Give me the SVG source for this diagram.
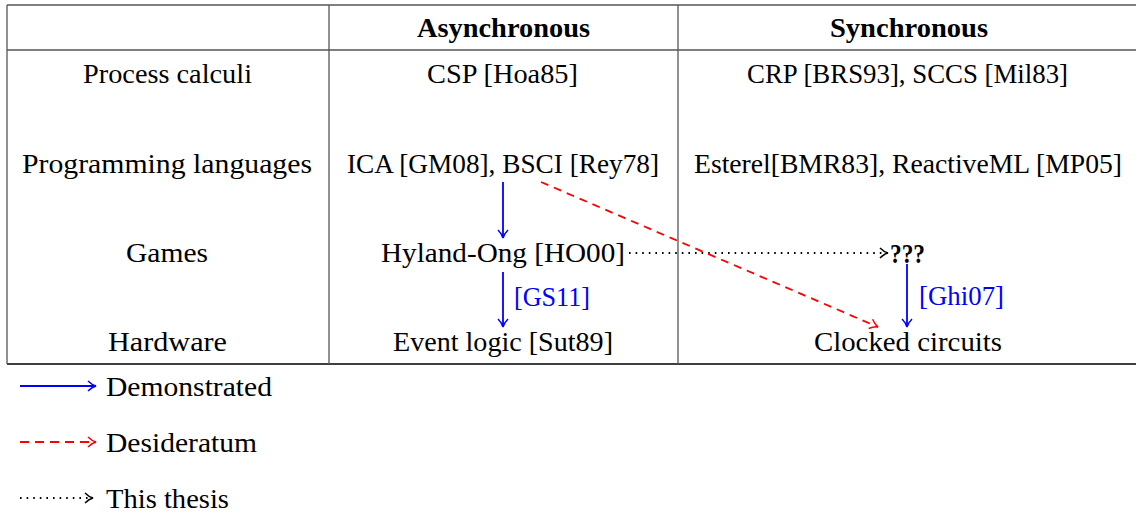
<svg xmlns="http://www.w3.org/2000/svg" width="1136" height="513" viewBox="0 0 1136 513">
<style>
text{font-family:"Liberation Serif","DejaVu Serif",serif;font-size:26.5px;fill:#000}
.c{text-anchor:middle}
.b{font-weight:bold}
.blue{fill:#0000ff}
.grid{stroke:#555;stroke-width:1.3;fill:none}
.dem{stroke:#0000ff;stroke-width:1.8;fill:none}
.des{stroke:#ff0000;stroke-width:1.8;fill:none;stroke-dasharray:8,6}
.th{stroke:#000;stroke-width:1.8;fill:none;stroke-dasharray:1.6,5}
</style>
<defs>
<marker id="ab" viewBox="0 0 10 12" refX="9" refY="6" markerWidth="10" markerHeight="12" markerUnits="userSpaceOnUse" orient="auto"><path d="M1,1 Q5,5 9,6 Q5,7 1,11" fill="none" stroke="#0000ff" stroke-width="1.5"/></marker>
<marker id="ar" viewBox="0 0 10 12" refX="9" refY="6" markerWidth="10" markerHeight="12" markerUnits="userSpaceOnUse" orient="auto"><path d="M1,1 Q5,5 9,6 Q5,7 1,11" fill="none" stroke="#ff0000" stroke-width="1.5"/></marker>
<marker id="ak" viewBox="0 0 10 12" refX="9" refY="6" markerWidth="10" markerHeight="12" markerUnits="userSpaceOnUse" orient="auto"><path d="M1,1 Q5,5 9,6 Q5,7 1,11" fill="none" stroke="#000" stroke-width="1.5"/></marker>
</defs>
<g id="table">
<line class="grid" x1="7" y1="5" x2="1136" y2="5"/>
<line class="grid" x1="7" y1="50" x2="1136" y2="50"/>
<line class="grid" x1="7" y1="364" x2="1136" y2="364" style="stroke:#000"/>
<line class="grid" x1="7" y1="5" x2="7" y2="364"/>
<line class="grid" x1="329" y1="5" x2="329" y2="364"/>
<line class="grid" x1="678" y1="5" x2="678" y2="364"/>
</g>
<g id="headers">
<text class="c b" x="503.5" y="37" textLength="173" lengthAdjust="spacingAndGlyphs">Asynchronous</text>
<text class="c b" x="909" y="37" textLength="158" lengthAdjust="spacingAndGlyphs">Synchronous</text>
</g>
<g id="rowlabels">
<text class="c" x="167.5" y="83" textLength="169" lengthAdjust="spacingAndGlyphs">Process calculi</text>
<text class="c" x="167" y="173" textLength="290" lengthAdjust="spacingAndGlyphs">Programming languages</text>
<text class="c" x="167" y="262" textLength="82" lengthAdjust="spacingAndGlyphs">Games</text>
<text class="c" x="167.5" y="351" textLength="119" lengthAdjust="spacingAndGlyphs">Hardware</text>
</g>
<g id="n-csp"><text class="c" x="502.5" y="83" textLength="151" lengthAdjust="spacingAndGlyphs">CSP [Hoa85]</text></g>
<g id="n-crp"><text class="c" x="907.5" y="83" textLength="321" lengthAdjust="spacingAndGlyphs">CRP [BRS93], SCCS [Mil83]</text></g>
<g id="n-ica"><text class="c" x="503" y="173" textLength="312" lengthAdjust="spacingAndGlyphs">ICA [GM08], BSCI [Rey78]</text></g>
<g id="n-esterel"><text class="c" x="908" y="173" textLength="428" lengthAdjust="spacingAndGlyphs">Esterel[BMR83], ReactiveML [MP05]</text></g>
<g id="n-ho"><text class="c" x="503" y="262" textLength="244" lengthAdjust="spacingAndGlyphs">Hyland-Ong [HO00]</text></g>
<g id="n-qqq"><text class="b" x="890" y="263" textLength="35" lengthAdjust="spacingAndGlyphs">???</text></g>
<g id="n-event"><text class="c" x="503" y="351" textLength="220" lengthAdjust="spacingAndGlyphs">Event logic [Sut89]</text></g>
<g id="n-clocked"><text class="c" x="908" y="351" textLength="188" lengthAdjust="spacingAndGlyphs">Clocked circuits</text></g>
<g id="connectors">
<line class="dem" x1="503" y1="182" x2="503" y2="238" marker-end="url(#ab)"/>
<line class="dem" x1="503" y1="272" x2="503" y2="327" marker-end="url(#ab)"/>
<text class="blue" x="514" y="306" textLength="76" lengthAdjust="spacingAndGlyphs">[GS11]</text>
<line class="dem" x1="907" y1="264" x2="907" y2="327" marker-end="url(#ab)"/>
<text class="blue" x="919" y="305" textLength="85" lengthAdjust="spacingAndGlyphs">[Ghi07]</text>
<line class="th" x1="629" y1="253" x2="888" y2="253" marker-end="url(#ak)"/>
<line class="des" x1="541" y1="182" x2="878" y2="327" marker-end="url(#ar)"/>
</g>
<g id="legend">
<line class="dem" x1="20" y1="386" x2="96" y2="386" marker-end="url(#ab)"/>
<text x="106" y="396" textLength="166" lengthAdjust="spacingAndGlyphs">Demonstrated</text>
<line class="des" x1="20" y1="442" x2="96" y2="442" marker-end="url(#ar)" style="stroke-dasharray:9,6"/>
<text x="106" y="452" textLength="151" lengthAdjust="spacingAndGlyphs">Desideratum</text>
<line class="th" x1="20" y1="498" x2="93" y2="498" marker-end="url(#ak)"/>
<text x="106" y="508" textLength="123" lengthAdjust="spacingAndGlyphs">This thesis</text>
</g>
</svg>
